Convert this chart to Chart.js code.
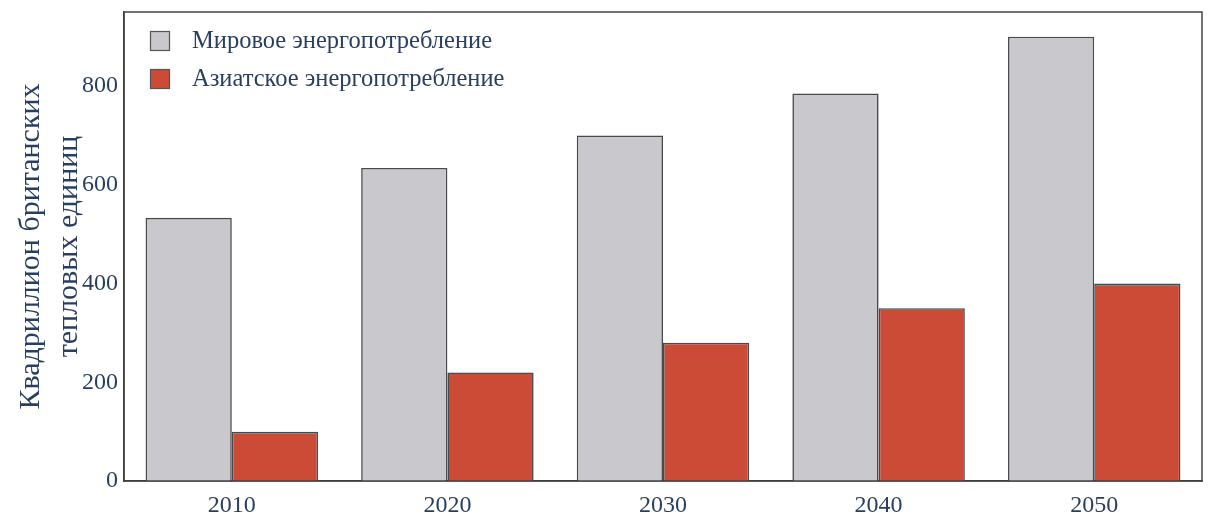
<!DOCTYPE html>
<html><head><meta charset="utf-8">
<script src="https://cdn.jsdelivr.net/npm/chart.js@4.4.0/dist/chart.umd.min.js"></script>
<style>html,body{margin:0;padding:0;background:#fff;}#wrap{width:1213px;height:515px;}</style>
</head><body><div id="wrap"><canvas id="c" width="1213" height="515"></canvas></div>
<script>
const categories = ['2010', '2020', '2030', '2040', '2050'];
const worldValues = [533, 634, 700, 785, 900];
const asiaValues = [100, 220, 280, 350, 400];
const seriesNames = ['Мировое энергопотребление', 'Азиатское энергопотребление'];
const yTitle = ['Квадриллион британских', 'тепловых единиц'];
const yTicks = [0, 200, 400, 600, 800];

const FONT = '"Liberation Serif", "Times New Roman", serif';
const TXT = '#2a3f5f';

const framePlugin = {
  id: 'frame',
  afterDatasetsDraw(chart) {
    const a = chart.chartArea, ctx = chart.ctx;
    ctx.save();
    ctx.strokeStyle = '#444';
    ctx.lineWidth = 1.5;
    ctx.strokeRect(a.left, a.top, a.right - a.left, a.bottom - a.top);
    // legend
    ctx.font = '24.5px ' + FONT;
    ctx.textBaseline = 'middle';
    chart.data.datasets.forEach((ds, i) => {
      const y = a.top + 29 + i * 38;
      const x = a.left + 26;
      ctx.fillStyle = ds.backgroundColor;
      ctx.fillRect(x, y - 10, 20, 20);
      ctx.strokeStyle = '#555';
      ctx.lineWidth = 1.2;
      ctx.strokeRect(x + 0.5, y - 9.5, 19, 19);
      ctx.fillStyle = TXT;
      ctx.fillText(ds.label, x + 42, y + 1);
    });
    ctx.restore();
  }
};

new Chart(document.getElementById('c'), {
  type: 'bar',
  data: {
    labels: categories,
    datasets: [
      { label: seriesNames[0], data: worldValues, backgroundColor: '#c8c8cd', borderColor: '#4a4a4a', borderWidth: 1.6 },
      { label: seriesNames[1], data: asiaValues, backgroundColor: '#cc4b37', borderColor: '#4a4a4a', borderWidth: 1.6 }
    ]
  },
  options: {
    responsive: false,
    animation: false,
    layout: { padding: { left: 0, right: 11, top: 11, bottom: 0 } },
    plugins: { legend: { display: false }, tooltip: { enabled: false } },
    datasets: { bar: { categoryPercentage: 0.8, barPercentage: 1.0 } },
    scales: {
      x: {
        grid: { display: false, drawTicks: false },
        border: { display: true, color: '#333', width: 1.5 },
        ticks: { color: TXT, font: { family: FONT, size: 24 }, padding: 10 },
        afterFit(s) { s.height = 34; }
      },
      y: {
        min: 0, max: 950,
        afterBuildTicks(s) { s.ticks = yTicks.map(v => ({ value: v })); },
        grid: { display: false, drawTicks: false },
        border: { display: true, color: '#333', width: 1.5 },
        ticks: { color: TXT, font: { family: FONT, size: 24, lineHeight: 0.5 }, padding: 6 },
        title: { display: true, text: yTitle, color: TXT, font: { family: FONT, size: 30, lineHeight: 1.27 }, padding: { top: 12, bottom: 0 } },
        afterFit(s) { s.width = 124; }
      }
    }
  },
  plugins: [framePlugin]
});
</script></body></html>
